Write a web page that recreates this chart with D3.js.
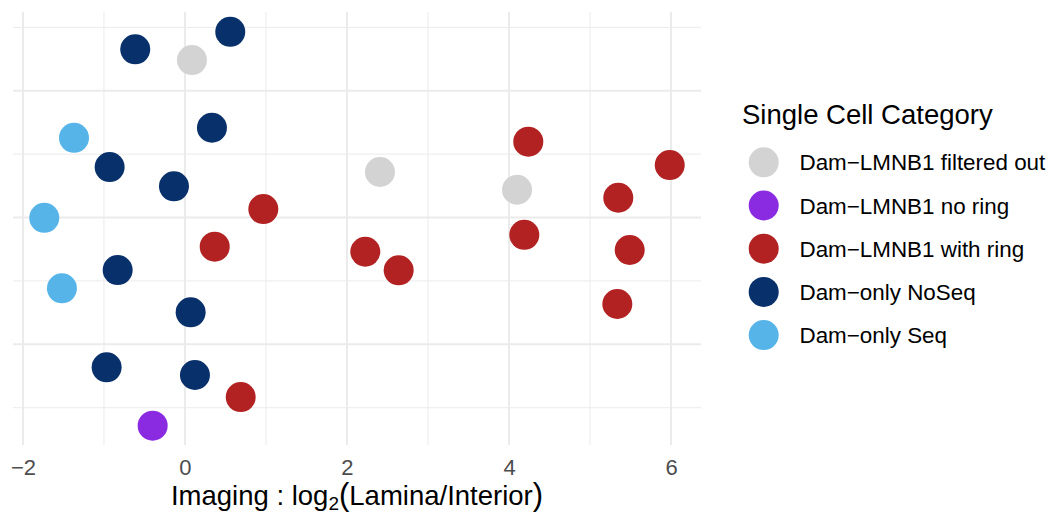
<!DOCTYPE html>
<html>
<head>
<meta charset="utf-8">
<script src="https://cdn.jsdelivr.net/npm/d3@7"></script>
<style>
  html, body { margin: 0; padding: 0; background: #ffffff; }
  svg { display: block; font-family: "Liberation Sans", Arial, Helvetica, sans-serif; }
</style>
</head>
<body>
<svg id="chart" width="1051" height="519"></svg>
<script>
// ---- data ----
const categories = [
  "Dam\u2212LMNB1 filtered out",
  "Dam\u2212LMNB1 no ring",
  "Dam\u2212LMNB1 with ring",
  "Dam\u2212only NoSeq",
  "Dam\u2212only Seq"
];
const categoryColors = ["#d3d3d3", "#8a2be2", "#b22222", "#08306b", "#56b4e9"];

// category index of each cell
const pointCategory = [3, 0, 3, 4, 3, 3, 3, 4, 2, 2, 3, 4, 3, 3, 3, 2, 1,
                       0, 2, 0, 2, 2, 2, 2, 2, 2, 2];
// x: Imaging log2(Lamina/Interior)
const pointX = [-0.614, 0.086, 0.559, -1.370, 0.333, -0.930, -0.136, -1.737, 0.967, 0.367,
                -0.831, -1.519, 0.070, -0.967, 0.123, 0.688, -0.399,
                2.407, 4.238, 4.099, 5.984, 5.349, 4.189, 2.226, 5.490, 2.638, 5.337];
// y: jitter position (no labelled axis)
const pointY = [3.327, 3.242, 3.465, 2.629, 2.708, 2.398, 2.246, 1.998, 2.067, 1.770,
                1.586, 1.442, 1.252, 0.819, 0.758, 0.584, 0.358,
                2.359, 2.598, 2.219, 2.414, 2.156, 1.864, 1.730, 1.744, 1.584, 1.318];

const xMajorTicks = [-2, 0, 2, 4, 6];
const xMinorTicks = [-1, 1, 3, 5];
const yMajorTicks = [1, 2, 3];
const yMinorTicks = [0.5, 1.5, 2.5, 3.5];

const legendTitle = "Single Cell Category";

// ---- layout ----
const svg = d3.select("#chart");
const panel = { left: 13, right: 701, top: 12, bottom: 445 };

const x = d3.scaleLinear().domain([-2.123, 6.370]).range([panel.left, panel.right]);
const y = d3.scaleLinear().domain([0.206, 3.621]).range([panel.bottom, panel.top]);

const grid = svg.append("g");
const gridColor = "#ebebeb";
// minor gridlines
grid.selectAll("line.xminor").data(xMinorTicks).join("line")
  .attr("x1", d => x(d)).attr("x2", d => x(d))
  .attr("y1", panel.top).attr("y2", panel.bottom)
  .attr("stroke", gridColor).attr("stroke-width", 1);
grid.selectAll("line.yminor").data(yMinorTicks).join("line")
  .attr("x1", panel.left).attr("x2", panel.right)
  .attr("y1", d => y(d)).attr("y2", d => y(d))
  .attr("stroke", gridColor).attr("stroke-width", 1);
// major gridlines
grid.selectAll("line.xmajor").data(xMajorTicks).join("line")
  .attr("x1", d => x(d)).attr("x2", d => x(d))
  .attr("y1", panel.top).attr("y2", panel.bottom)
  .attr("stroke", gridColor).attr("stroke-width", 2);
grid.selectAll("line.ymajor").data(yMajorTicks).join("line")
  .attr("x1", panel.left).attr("x2", panel.right)
  .attr("y1", d => y(d)).attr("y2", d => y(d))
  .attr("stroke", gridColor).attr("stroke-width", 2);

// x axis labels
const xAxis = d3.axisBottom(x)
  .tickValues(xMajorTicks)
  .tickSize(0)
  .tickPadding(14)
  .tickFormat(d => d < 0 ? "\u2212" + Math.abs(d) : String(d));
const gx = svg.append("g").attr("transform", `translate(0,${panel.bottom})`).call(xAxis);
gx.select(".domain").remove();
gx.selectAll("text")
  .attr("fill", "#4d4d4d")
  .style("font-size", "22px")
  .style("font-family", "'Liberation Sans', Arial, Helvetica, sans-serif");

// points
const pts = pointX.map((v, i) => ({ x: v, y: pointY[i], c: pointCategory[i] }));
svg.append("g").selectAll("circle").data(pts).join("circle")
  .attr("cx", d => x(d.x))
  .attr("cy", d => y(d.y))
  .attr("r", 15)
  .attr("fill", d => categoryColors[d.c]);

// axis title (plotmath style)
const title = svg.append("text")
  .attr("x", (panel.left + panel.right) / 2)
  .attr("y", 505)
  .attr("text-anchor", "middle")
  .attr("fill", "#000")
  .attr("xml:space", "preserve")
  .style("white-space", "pre")
  .style("font-size", "27.5px");
title.append("tspan").text("Imaging : log");
title.append("tspan").attr("dy", 5).style("font-size", "19px").text("2");
title.append("tspan").attr("dy", -5).style("font-size", "31px").text("(");
title.append("tspan").text("Lamina/Interior");
title.append("tspan").style("font-size", "31px").text(")");

// legend
const legend = svg.append("g");
legend.append("text")
  .attr("x", 742).attr("y", 124)
  .attr("fill", "#000")
  .style("font-size", "27.5px")
  .text(legendTitle);
const items = legend.selectAll("g.item").data(categories).join("g")
  .attr("transform", (d, i) => `translate(0,${162.3 + i * 43.2})`);
items.append("circle").attr("cx", 763.7).attr("cy", 0).attr("r", 15)
  .attr("fill", (d, i) => categoryColors[i]);
items.append("text").attr("x", 799.5).attr("y", 8)
  .attr("fill", "#000")
  .style("font-size", "22.4px")
  .text(d => d);
</script>
</body>
</html>
